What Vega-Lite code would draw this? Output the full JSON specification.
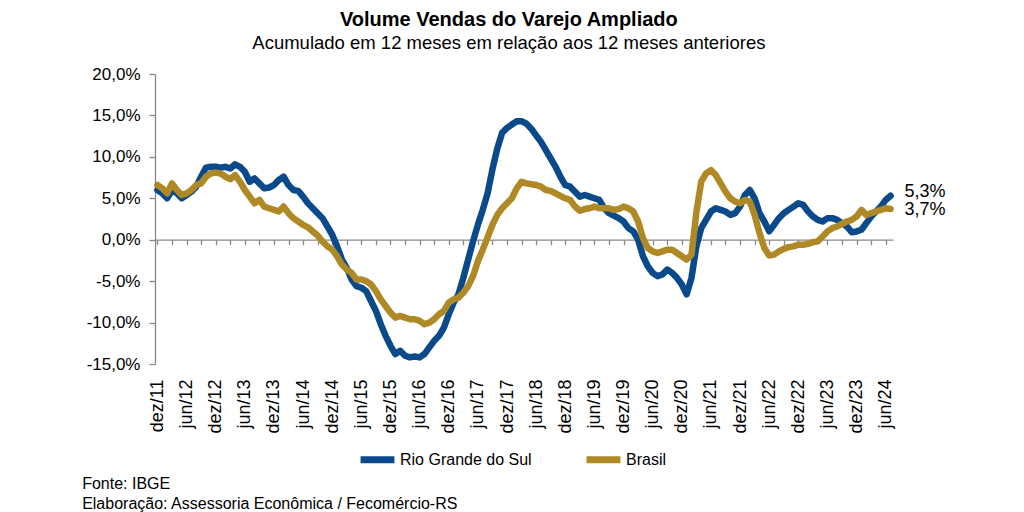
{
  "$schema": "https://vega.github.io/schema/vega-lite/v6.json",
  "padding": {"left": 82, "top": 9, "right": 5, "bottom": 0},
  "config": {
    "locale": {"number": {"decimal": ",", "thousands": ".", "grouping": [3], "currency": ["R$", ""], "minus": "-"}},
    "font": "Liberation Sans",
    "view": {"stroke": null},
    "axis": {"labelFont": "Liberation Sans", "labelColor": "#000000", "grid": false, "domainColor": "#888888", "tickColor": "#888888"},
    "concat": {"spacing": 0}
  },
  "title": {
    "text": ["Fonte: IBGE", "Elaboração: Assessoria Econômica / Fecomércio-RS"],
    "orient": "bottom", "anchor": "start", "fontSize": 16, "fontWeight": "normal",
    "lineHeight": 20, "color": "#000000", "offset": 2, "dx": -4, "font": "Liberation Sans"
  },
  "vconcat": [
    {
      "title": {
        "text": "Volume Vendas do Varejo Ampliado",
        "subtitle": "Acumulado em 12 meses em relação aos 12 meses anteriores",
        "fontSize": 20, "fontWeight": "bold", "color": "#000000", "font": "Liberation Sans",
        "subtitleFontSize": 18.5, "subtitleColor": "#000000", "subtitleFont": "Liberation Sans",
        "anchor": "middle", "frame": "bounds", "dx": -7, "offset": 13, "subtitlePadding": 4
      },
      "width": 738,
      "height": 290,
      "data": {"values": [
        {"m":"dez/11","RS":0.060,"BR":0.066},
        {"m":"jan/12","RS":0.056,"BR":0.062},
        {"m":"fev/12","RS":0.050,"BR":0.056},
        {"m":"mar/12","RS":0.060,"BR":0.068},
        {"m":"abr/12","RS":0.056,"BR":0.060},
        {"m":"mai/12","RS":0.050,"BR":0.054},
        {"m":"jun/12","RS":0.054,"BR":0.056},
        {"m":"jul/12","RS":0.058,"BR":0.060},
        {"m":"ago/12","RS":0.064,"BR":0.066},
        {"m":"set/12","RS":0.076,"BR":0.068},
        {"m":"out/12","RS":0.087,"BR":0.076},
        {"m":"nov/12","RS":0.088,"BR":0.080},
        {"m":"dez/12","RS":0.088,"BR":0.081},
        {"m":"jan/13","RS":0.087,"BR":0.080},
        {"m":"fev/13","RS":0.088,"BR":0.076},
        {"m":"mar/13","RS":0.086,"BR":0.073},
        {"m":"abr/13","RS":0.091,"BR":0.078},
        {"m":"mai/13","RS":0.088,"BR":0.070},
        {"m":"jun/13","RS":0.082,"BR":0.060},
        {"m":"jul/13","RS":0.070,"BR":0.052},
        {"m":"ago/13","RS":0.074,"BR":0.044},
        {"m":"set/13","RS":0.068,"BR":0.048},
        {"m":"out/13","RS":0.062,"BR":0.040},
        {"m":"nov/13","RS":0.063,"BR":0.038},
        {"m":"dez/13","RS":0.066,"BR":0.036},
        {"m":"jan/14","RS":0.072,"BR":0.034},
        {"m":"fev/14","RS":0.076,"BR":0.040},
        {"m":"mar/14","RS":0.066,"BR":0.032},
        {"m":"abr/14","RS":0.060,"BR":0.026},
        {"m":"mai/14","RS":0.059,"BR":0.022},
        {"m":"jun/14","RS":0.052,"BR":0.018},
        {"m":"jul/14","RS":0.044,"BR":0.015},
        {"m":"ago/14","RS":0.038,"BR":0.010},
        {"m":"set/14","RS":0.032,"BR":0.005},
        {"m":"out/14","RS":0.026,"BR":-0.002},
        {"m":"nov/14","RS":0.016,"BR":-0.008},
        {"m":"dez/14","RS":0.006,"BR":-0.012},
        {"m":"jan/15","RS":-0.008,"BR":-0.020},
        {"m":"fev/15","RS":-0.024,"BR":-0.030},
        {"m":"mar/15","RS":-0.034,"BR":-0.036},
        {"m":"abr/15","RS":-0.048,"BR":-0.040},
        {"m":"mai/15","RS":-0.056,"BR":-0.048},
        {"m":"jun/15","RS":-0.058,"BR":-0.048},
        {"m":"jul/15","RS":-0.062,"BR":-0.050},
        {"m":"ago/15","RS":-0.074,"BR":-0.054},
        {"m":"set/15","RS":-0.086,"BR":-0.062},
        {"m":"out/15","RS":-0.102,"BR":-0.072},
        {"m":"nov/15","RS":-0.116,"BR":-0.080},
        {"m":"dez/15","RS":-0.128,"BR":-0.088},
        {"m":"jan/16","RS":-0.138,"BR":-0.094},
        {"m":"fev/16","RS":-0.134,"BR":-0.092},
        {"m":"mar/16","RS":-0.140,"BR":-0.094},
        {"m":"abr/16","RS":-0.142,"BR":-0.096},
        {"m":"mai/16","RS":-0.141,"BR":-0.096},
        {"m":"jun/16","RS":-0.142,"BR":-0.098},
        {"m":"jul/16","RS":-0.138,"BR":-0.102},
        {"m":"ago/16","RS":-0.130,"BR":-0.100},
        {"m":"set/16","RS":-0.122,"BR":-0.096},
        {"m":"out/16","RS":-0.116,"BR":-0.090},
        {"m":"nov/16","RS":-0.106,"BR":-0.086},
        {"m":"dez/16","RS":-0.090,"BR":-0.076},
        {"m":"jan/17","RS":-0.076,"BR":-0.072},
        {"m":"fev/17","RS":-0.066,"BR":-0.070},
        {"m":"mar/17","RS":-0.046,"BR":-0.064},
        {"m":"abr/17","RS":-0.024,"BR":-0.056},
        {"m":"mai/17","RS":-0.002,"BR":-0.044},
        {"m":"jun/17","RS":0.018,"BR":-0.026},
        {"m":"jul/17","RS":0.036,"BR":-0.012},
        {"m":"ago/17","RS":0.056,"BR":0.003},
        {"m":"set/17","RS":0.085,"BR":0.018},
        {"m":"out/17","RS":0.110,"BR":0.030},
        {"m":"nov/17","RS":0.129,"BR":0.038},
        {"m":"dez/17","RS":0.135,"BR":0.044},
        {"m":"jan/18","RS":0.139,"BR":0.050},
        {"m":"fev/18","RS":0.143,"BR":0.062},
        {"m":"mar/18","RS":0.143,"BR":0.070},
        {"m":"abr/18","RS":0.140,"BR":0.068},
        {"m":"mai/18","RS":0.134,"BR":0.067},
        {"m":"jun/18","RS":0.126,"BR":0.066},
        {"m":"jul/18","RS":0.118,"BR":0.064},
        {"m":"ago/18","RS":0.108,"BR":0.060},
        {"m":"set/18","RS":0.098,"BR":0.059},
        {"m":"out/18","RS":0.088,"BR":0.056},
        {"m":"nov/18","RS":0.076,"BR":0.053},
        {"m":"dez/18","RS":0.066,"BR":0.050},
        {"m":"jan/19","RS":0.064,"BR":0.048},
        {"m":"fev/19","RS":0.058,"BR":0.040},
        {"m":"mar/19","RS":0.052,"BR":0.035},
        {"m":"abr/19","RS":0.054,"BR":0.037},
        {"m":"mai/19","RS":0.052,"BR":0.038},
        {"m":"jun/19","RS":0.050,"BR":0.040},
        {"m":"jul/19","RS":0.048,"BR":0.038},
        {"m":"ago/19","RS":0.038,"BR":0.038},
        {"m":"set/19","RS":0.032,"BR":0.038},
        {"m":"out/19","RS":0.029,"BR":0.036},
        {"m":"nov/19","RS":0.026,"BR":0.037},
        {"m":"dez/19","RS":0.022,"BR":0.040},
        {"m":"jan/20","RS":0.014,"BR":0.038},
        {"m":"fev/20","RS":0.010,"BR":0.034},
        {"m":"mar/20","RS":0.000,"BR":0.022},
        {"m":"abr/20","RS":-0.020,"BR":0.002},
        {"m":"mai/20","RS":-0.032,"BR":-0.010},
        {"m":"jun/20","RS":-0.040,"BR":-0.014},
        {"m":"jul/20","RS":-0.044,"BR":-0.016},
        {"m":"ago/20","RS":-0.042,"BR":-0.014},
        {"m":"set/20","RS":-0.036,"BR":-0.012},
        {"m":"out/20","RS":-0.040,"BR":-0.012},
        {"m":"nov/20","RS":-0.046,"BR":-0.016},
        {"m":"dez/20","RS":-0.054,"BR":-0.020},
        {"m":"jan/21","RS":-0.066,"BR":-0.024},
        {"m":"fev/21","RS":-0.046,"BR":-0.018},
        {"m":"mar/21","RS":-0.008,"BR":0.033},
        {"m":"abr/21","RS":0.014,"BR":0.070},
        {"m":"mai/21","RS":0.024,"BR":0.080},
        {"m":"jun/21","RS":0.034,"BR":0.084},
        {"m":"jul/21","RS":0.038,"BR":0.078},
        {"m":"ago/21","RS":0.036,"BR":0.068},
        {"m":"set/21","RS":0.034,"BR":0.058},
        {"m":"out/21","RS":0.030,"BR":0.050},
        {"m":"nov/21","RS":0.032,"BR":0.046},
        {"m":"dez/21","RS":0.040,"BR":0.044},
        {"m":"jan/22","RS":0.054,"BR":0.048},
        {"m":"fev/22","RS":0.060,"BR":0.046},
        {"m":"mar/22","RS":0.050,"BR":0.030},
        {"m":"abr/22","RS":0.032,"BR":0.008},
        {"m":"mai/22","RS":0.022,"BR":-0.010},
        {"m":"jun/22","RS":0.010,"BR":-0.019},
        {"m":"jul/22","RS":0.018,"BR":-0.018},
        {"m":"ago/22","RS":0.026,"BR":-0.014},
        {"m":"set/22","RS":0.032,"BR":-0.011},
        {"m":"out/22","RS":0.036,"BR":-0.009},
        {"m":"nov/22","RS":0.040,"BR":-0.008},
        {"m":"dez/22","RS":0.044,"BR":-0.006},
        {"m":"jan/23","RS":0.042,"BR":-0.006},
        {"m":"fev/23","RS":0.034,"BR":-0.005},
        {"m":"mar/23","RS":0.028,"BR":-0.003},
        {"m":"abr/23","RS":0.024,"BR":-0.002},
        {"m":"mai/23","RS":0.022,"BR":0.004},
        {"m":"jun/23","RS":0.026,"BR":0.010},
        {"m":"jul/23","RS":0.026,"BR":0.014},
        {"m":"ago/23","RS":0.024,"BR":0.016},
        {"m":"set/23","RS":0.020,"BR":0.019},
        {"m":"out/23","RS":0.016,"BR":0.022},
        {"m":"nov/23","RS":0.009,"BR":0.024},
        {"m":"dez/23","RS":0.010,"BR":0.028},
        {"m":"jan/24","RS":0.012,"BR":0.036},
        {"m":"fev/24","RS":0.020,"BR":0.030},
        {"m":"mar/24","RS":0.028,"BR":0.032},
        {"m":"abr/24","RS":0.034,"BR":0.034},
        {"m":"mai/24","RS":0.040,"BR":0.036},
        {"m":"jun/24","RS":0.048,"BR":0.038},
        {"m":"jul/24","RS":0.053,"BR":0.037}
      ]},
      "transform": [{"fold": ["RS", "BR"], "as": ["s", "v"]}],
      "encoding": {
        "y": {
          "field": "v", "type": "quantitative",
          "scale": {"domain": [-0.15, 0.2], "nice": false, "zero": false},
          "axis": {
            "values": [-0.15, -0.1, -0.05, 0, 0.05, 0.1, 0.15, 0.2],
            "format": ".1%", "labelFontSize": 17, "tickSize": 6, "labelPadding": 9,
            "domainWidth": 1.3, "tickWidth": 1.3, "title": null
          }
        }
      },
      "layer": [
        {
          "mark": {"type": "line", "strokeWidth": 6.5, "strokeCap": "round", "strokeJoin": "round"},
          "encoding": {
            "x": {
              "field": "m", "type": "ordinal", "sort": null,
              "scale": {"type": "point", "padding": 0.5},
              "axis": {
                "orient": "bottom",
                "values": ["dez/11","jun/12","dez/12","jun/13","dez/13","jun/14","dez/14","jun/15","dez/15","jun/16","dez/16","jun/17","dez/17","jun/18","dez/18","jun/19","dez/19","jun/20","dez/20","jun/21","dez/21","jun/22","dez/22","jun/23","dez/23","jun/24"],
                "labelAngle": -90, "labelFontSize": 18, "labelPadding": 15,
                "ticks": false, "domain": false, "title": null
              }
            },
            "color": {
              "field": "s", "type": "nominal",
              "scale": {"domain": ["RS", "BR"], "range": ["#0A4A8A", "#AE8926"]},
              "legend": {
                "title": null, "orient": "none", "legendX": 202, "legendY": 365, "direction": "horizontal",
                "symbolType": "stroke", "symbolStrokeWidth": 7, "symbolSize": 1150,
                "labelFontSize": 16, "labelColor": "#000000", "labelFont": "Liberation Sans",
                "columnPadding": 40, "labelOffset": 2,
                "labelExpr": "datum.label == 'RS' ? 'Rio Grande do Sul' : 'Brasil'"
              }
            }
          }
        },
        {
          "transform": [{"filter": "datum.s == 'RS' && datum.m == 'jul/24'"}],
          "mark": {"type": "text", "align": "left", "baseline": "middle", "dx": 14, "dy": -4, "fontSize": 18, "color": "#000000"},
          "encoding": {
            "x": {
              "field": "m", "type": "ordinal", "sort": null,
              "axis": {
                "orient": "bottom",
                "values": ["dez/11","mar/12","jun/12","set/12","dez/12","mar/13","jun/13","set/13","dez/13","mar/14","jun/14","set/14","dez/14","mar/15","jun/15","set/15","dez/15","mar/16","jun/16","set/16","dez/16","mar/17","jun/17","set/17","dez/17","mar/18","jun/18","set/18","dez/18","mar/19","jun/19","set/19","dez/19","mar/20","jun/20","set/20","dez/20","mar/21","jun/21","set/21","dez/21","mar/22","jun/22","set/22","dez/22","mar/23","jun/23","set/23","dez/23","mar/24","jun/24"],
                "labels": false, "ticks": true, "tickSize": 5, "tickWidth": 1.3,
                "domain": true, "domainWidth": 1.3, "offset": -124.3, "title": null
              }
            },
            "text": {"field": "v", "type": "quantitative", "format": ".1%"}
          }
        },
        {
          "transform": [{"filter": "datum.s == 'BR' && datum.m == 'jul/24'"}],
          "mark": {"type": "text", "align": "left", "baseline": "middle", "dx": 14, "dy": 1, "fontSize": 18, "color": "#000000"},
          "encoding": {
            "x": {"field": "m", "type": "ordinal", "sort": null, "axis": null},
            "text": {"field": "v", "type": "quantitative", "format": ".1%"}
          }
        }
      ],
      "resolve": {"axis": {"x": "independent"}}
    }
  ]
}
